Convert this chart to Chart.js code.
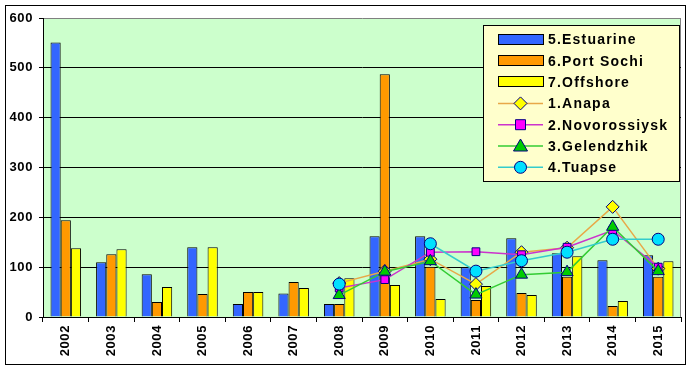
<!DOCTYPE html>
<html>
<head>
<meta charset="utf-8">
<script src="https://cdn.jsdelivr.net/npm/chart.js@4.4.0/dist/chart.umd.min.js"></script>
<style>
html,body{margin:0;padding:0;background:#fff;}
#wrap{width:689px;height:368px;position:relative;}
</style>
</head>
<body>
<div id="wrap"><canvas id="c" width="689" height="368"></canvas></div>
<script>
const years = ['2002','2003','2004','2005','2006','2007','2008','2009','2010','2011','2012','2013','2014','2015'];
const estuarine = [551,110,86,140,26,47,26,162,162,100,158,128,114,124];
const portSochi = [194,126,30,46,50,70,26,487,101,34,48,81,22,81];
const offshore = [138,136,60,140,50,58,78,64,36,62,44,122,32,112];
const anapa = [null,null,null,null,null,null,68,92,116,66,130,139,221,97];
const novorossiysk = [null,null,null,null,null,null,58,75,130,131,125,140,174,100];
const gelendzhik = [null,null,null,null,null,null,44,91,112,45,85,90,181,92];
const tuapse = [null,null,null,null,null,null,66,null,147,92,113,130,156,156];
const yTicks = [0,100,200,300,400,500,600];

const FONT = '"Liberation Sans", Arial, sans-serif';

const legendItems = [
  {label:'5.Estuarine', type:'bar', fill:'#3366FF'},
  {label:'6.Port Sochi', type:'bar', fill:'#FF9900'},
  {label:'7.Offshore', type:'bar', fill:'#FFFF00'},
  {label:'1.Anapa', type:'line', line:'#E8A848', fill:'#FFFF00', shape:'diamond'},
  {label:'2.Novorossiysk', type:'line', line:'#CC33CC', fill:'#FF00FF', shape:'square'},
  {label:'3.Gelendzhik', type:'line', line:'#33CC33', fill:'#00CC00', shape:'triangle'},
  {label:'4.Tuapse', type:'line', line:'#33CCCC', fill:'#00E0FF', shape:'circle'}
];

function marker(ctx, shape, x, y, fill) {
  ctx.save();
  ctx.fillStyle = fill; ctx.strokeStyle = '#000080'; ctx.lineWidth = 1;
  ctx.beginPath();
  if (shape === 'diamond') { ctx.moveTo(x, y-6.5); ctx.lineTo(x+6.5, y); ctx.lineTo(x, y+6.5); ctx.lineTo(x-6.5, y); ctx.closePath(); }
  else if (shape === 'square') { ctx.rect(x-5, y-5, 10, 10); }
  else if (shape === 'triangle') { ctx.moveTo(x, y-7); ctx.lineTo(x+7, y+5); ctx.lineTo(x-7, y+5); ctx.closePath(); }
  else { ctx.arc(x, y, 6, 0, Math.PI*2); }
  ctx.fill(); ctx.stroke();
  ctx.restore();
}

const decor = {
  id: 'decor',
  beforeLayout(chart) { chart.ctx.letterSpacing = '0.6px'; },
  beforeDraw(chart) {
    const ctx = chart.ctx, a = chart.chartArea;
    ctx.letterSpacing = '0.6px';
    ctx.save();
    ctx.fillStyle = '#fff';
    ctx.fillRect(0, 0, chart.width, chart.height);
    ctx.fillStyle = '#CCFFCC';
    ctx.fillRect(a.left, a.top, a.right - a.left, a.bottom - a.top);
    ctx.strokeStyle = '#808080'; ctx.lineWidth = 1;
    ctx.beginPath();
    ctx.moveTo(Math.round(a.right) - 0.5, a.top); ctx.lineTo(Math.round(a.right) - 0.5, a.bottom);
    ctx.stroke();
    ctx.strokeStyle = '#000';
    ctx.strokeRect(5.5, 5.5, 680, 359);
    ctx.restore();
  },
  afterDraw(chart) {
    const ctx = chart.ctx;
    ctx.save();
    const bx = 483.5, by = 25.5, bw = 196, bh = 156;
    ctx.fillStyle = '#FFFFCC';
    ctx.fillRect(bx, by, bw, bh);
    ctx.strokeStyle = '#000'; ctx.lineWidth = 1;
    ctx.strokeRect(bx, by, bw, bh);
    ctx.font = 'bold 14px ' + FONT;
    ctx.letterSpacing = '1.2px';
    ctx.textBaseline = 'middle';
    ctx.textAlign = 'left';
    legendItems.forEach((it, i) => {
      const cy = 39.5 + i * 21.3;
      if (it.type === 'bar') {
        ctx.fillStyle = it.fill;
        ctx.fillRect(498.5, Math.round(cy) - 5.5, 45, 10);
        ctx.strokeStyle = '#000';
        ctx.strokeRect(498.5, Math.round(cy) - 5.5, 45, 10);
      } else {
        ctx.strokeStyle = it.line; ctx.lineWidth = 1.5;
        ctx.beginPath(); ctx.moveTo(498, cy); ctx.lineTo(543, cy); ctx.stroke();
        marker(ctx, it.shape, 520.5, cy, it.fill);
      }
      ctx.fillStyle = '#000';
      ctx.fillText(it.label, 548, cy + 1);
    });
    ctx.restore();
  }
};

const barBase = {borderColor:'#000', borderWidth:1, categoryPercentage:0.67, barPercentage:1.0, order:5};
const lineBase = {type:'line', pointBorderColor:'#000080', pointBorderWidth:1, borderWidth:1.5, spanGaps:false, fill:false, tension:0};

new Chart(document.getElementById('c'), {
  type: 'bar',
  data: {
    labels: years,
    datasets: [
      Object.assign({label:'5.Estuarine', data:estuarine, backgroundColor:'#3366FF'}, barBase),
      Object.assign({label:'6.Port Sochi', data:portSochi, backgroundColor:'#FF9900'}, barBase),
      Object.assign({label:'7.Offshore', data:offshore, backgroundColor:'#FFFF00'}, barBase),
      Object.assign({label:'1.Anapa', data:anapa, borderColor:'#E8A848', pointBackgroundColor:'#FFFF00', pointStyle:'rectRot', pointRadius:6.5, order:4}, lineBase),
      Object.assign({label:'2.Novorossiysk', data:novorossiysk, borderColor:'#CC33CC', pointBackgroundColor:'#FF00FF', pointStyle:'rect', pointRadius:5.5, order:3}, lineBase),
      Object.assign({label:'3.Gelendzhik', data:gelendzhik, borderColor:'#33CC33', pointBackgroundColor:'#00CC00', pointStyle:'triangle', pointRadius:7, order:2}, lineBase),
      Object.assign({label:'4.Tuapse', data:tuapse, borderColor:'#33CCCC', pointBackgroundColor:'#00E0FF', pointStyle:'circle', pointRadius:6, order:1}, lineBase)
    ]
  },
  options: {
    responsive: false,
    animation: false,
    devicePixelRatio: 1,
    layout: {padding: {top: 18, right: 6, left: 0, bottom: 0}},
    plugins: {legend: {display: false}, tooltip: {enabled: false}},
    scales: {
      x: {
        offset: true,
        grid: {offset: true, drawOnChartArea: false, drawTicks: true, tickLength: 5, color: '#000', tickColor: '#000'},
        border: {display: true, color: '#000', width: 1},
        ticks: {minRotation: 90, maxRotation: 90, autoSkip: false, padding: 3, color: '#000', font: {family: FONT, size: 13, weight: 'bold'}},
        afterFit(s) { s.height = 51; }
      },
      y: {
        min: 0, max: 600,
        afterBuildTicks(s) { s.ticks = yTicks.map(v => ({value: v})); },
        grid: {color: (c) => (c.tick && c.tick.value === 600 ? '#808080' : '#000'), tickColor: '#000', tickLength: 4, drawTicks: true},
        border: {display: true, color: '#000', width: 1},
        ticks: {padding: 6, color: '#000', font: {family: FONT, size: 13, weight: 'bold'}},
        afterFit(s) { s.width = 43; }
      }
    }
  },
  plugins: [decor]
});
</script>
</body>
</html>
